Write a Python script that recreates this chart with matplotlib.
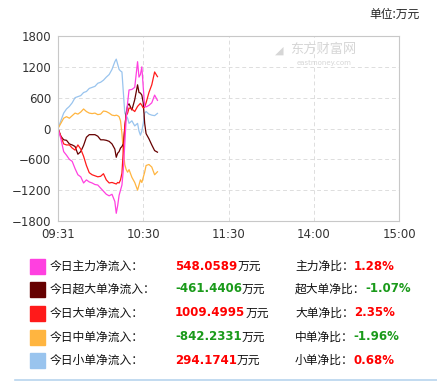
import matplotlib
matplotlib.use("Agg")
import matplotlib.pyplot as plt
from matplotlib.patches import Rectangle
from matplotlib.lines import Line2D

plt.rcParams["font.family"] = ["Noto Sans CJK SC", "DejaVu Sans"]

# minutes since 09:30 (0 = 09:31 label position)
minutes = [0, 2, 4, 6, 8, 10, 12, 14, 16, 18, 20, 22, 24, 26, 28, 30, 32, 34, 36, 38,
           40, 41, 42, 43, 44, 45, 46, 47, 48, 49, 50, 52, 54, 56, 57, 58, 59, 60,
           61, 62, 64, 66, 68, 70]

main_flow = [0, -200, -450, -520, -600, -640, -780, -900, -940, -1060, -1000, -1040,
             -1060, -1090, -1100, -1160, -1220, -1280, -1310, -1280, -1420, -1650,
             -1500, -1300, -1200, -1100, -800, -300, 200, 500, 750, 760, 800, 1300,
             1000, 1050, 1200, 800, 430, 420, 450, 500, 650, 548]
super_flow = [0, -150, -220, -230, -300, -320, -350, -500, -450, -330, -170, -120,
              -120, -120, -150, -220, -220, -230, -250, -300, -400, -560, -480, -450,
              -380, -350, -300, 0, 300, 450, 480, 360, 560, 850, 700, 690, 650, 500,
              100, -100, -200, -320, -430, -461]
big_flow = [0, -150, -300, -320, -320, -380, -420, -320, -400, -540, -720, -860, -900,
            -920, -940, -930, -880, -1000, -1060, -1050, -1070, -1080, -1050, -1060,
            -1000, -870, -400, 50, 250, 300, 400, 380, 330, 430, 460, 490, 450, 400,
            420, 500, 700, 850, 1100, 1009]
mid_flow = [0, 100, 200, 230, 200, 250, 300, 280, 320, 380, 330, 300, 290, 300, 270,
            280, 340, 330, 300, 260, 250, 260, 250, 230, 150, -100, -450, -700, -800,
            -850, -800, -950, -1050, -1200, -1100, -1000, -1050, -950, -850, -720,
            -700, -750, -900, -842]
small_flow = [0, 150, 300, 380, 430, 500, 600, 620, 640, 700, 720, 780, 800, 820, 880,
              900, 940, 1000, 1050, 1150, 1300, 1350, 1250, 1150, 1120, 1100, 700, 300,
              250, 200, 100, 150, 50, 100, -50, -130, -50, 100, 300, 330, 280, 260,
              250, 294]

series_names = ["今日主力净流入：", "今日超大单净流入：", "今日大单净流入：",
                "今日中单净流入：", "今日小单净流入："]
series_values = ["548.0589", "-461.4406", "1009.4995", "-842.2331", "294.1741"]
ratio_names = ["主力净比：", "超大单净比：", "大单净比：", "中单净比：", "小单净比："]
ratio_values = ["1.28%", "-1.07%", "2.35%", "-1.96%", "0.68%"]
colors = ["#ff40e0", "#660000", "#ff1a1a", "#ffb540", "#99c4ee"]

x_ticks = [0, 60, 120, 180, 240]
x_labels = ["09:31", "10:30", "11:30", "14:00", "15:00"]
y_ticks = [-1800, -1200, -600, 0, 600, 1200, 1800]

W, H = 437, 381
fig = plt.figure(figsize=(W / 100, H / 100), dpi=100)
ax = fig.add_axes([58 / W, 1 - 221 / H, 341 / W, 185 / H])

data = [main_flow, super_flow, big_flow, mid_flow, small_flow]
# draw order: small & mid first, then the others on top
for idx in [4, 3, 1, 2, 0]:
    ax.plot(minutes, data[idx], color=colors[idx], lw=0.9)

ax.set_xlim(0, 240)
ax.set_ylim(-1800, 1800)
ax.set_xticks(x_ticks)
ax.set_xticklabels(x_labels)
ax.set_yticks(y_ticks)
ax.tick_params(length=0, labelsize=8.5, colors="#333333", pad=5)
for lab in ax.get_xticklabels() + ax.get_yticklabels():
    lab.set_family(["DejaVu Sans"])
for s in ax.spines.values():
    s.set_color("#c8c8c8")
    s.set_linewidth(0.8)
ax.grid(True, ls=(0, (4, 3)), color="#dddddd", lw=0.7)

# watermark
ax.text(0.68, 0.93, "东方财富网", transform=ax.transAxes, fontsize=9.5,
        color="#d6d6d6", ha="left", va="center")
ax.text(0.70, 0.855, "eastmoney.com", transform=ax.transAxes, fontsize=5,
        color="#d6d6d6", ha="left", va="center", family=["DejaVu Sans"])
ax.text(0.635, 0.92, "◢", transform=ax.transAxes, fontsize=8, color="#d6d6d6",
        ha="left", va="center", family=["DejaVu Sans"])

fig.text(420 / W, 1 - 14 / H, "单位:万元", ha="right", va="center", fontsize=8.5,
         color="#222222")

# legend table
fig.canvas.draw()
renderer = fig.canvas.get_renderer()
row_y = [266, 289, 313, 337, 360]
for i in range(5):
    yc = 1 - row_y[i] / H
    fig.patches.append(Rectangle((30 / W, yc - 7.5 / H), 15 / W, 15 / H,
                                 transform=fig.transFigure, color=colors[i]))
    fig.text(50 / W, yc, series_names[i], ha="left", va="center", fontsize=8.5,
             color="#111111")
    vcol = "#1a9a1a" if series_values[i].startswith("-") else "#ff0000"
    t = fig.text(175 / W, yc, series_values[i], ha="left", va="center", fontsize=8.5,
                 color=vcol, weight="bold", family=["DejaVu Sans"])
    bb = t.get_window_extent(renderer)
    fig.text(bb.x1 / W, yc, "万元", ha="left", va="center", fontsize=8.5,
             color="#111111")
    t2 = fig.text(295 / W, yc, ratio_names[i], ha="left", va="center", fontsize=8.5,
                  color="#111111")
    bb2 = t2.get_window_extent(renderer)
    rcol = "#1a9a1a" if ratio_values[i].startswith("-") else "#ff0000"
    fig.text(bb2.x1 / W, yc, ratio_values[i], ha="left", va="center", fontsize=8.5,
             color=rcol, weight="bold", family=["DejaVu Sans"])

fig.lines.append(Line2D([15 / W, 1], [1 - 380 / H] * 2, transform=fig.transFigure,
                        color="#b8d4ee", lw=1.2))

fig.savefig("out.png", dpi=100)
